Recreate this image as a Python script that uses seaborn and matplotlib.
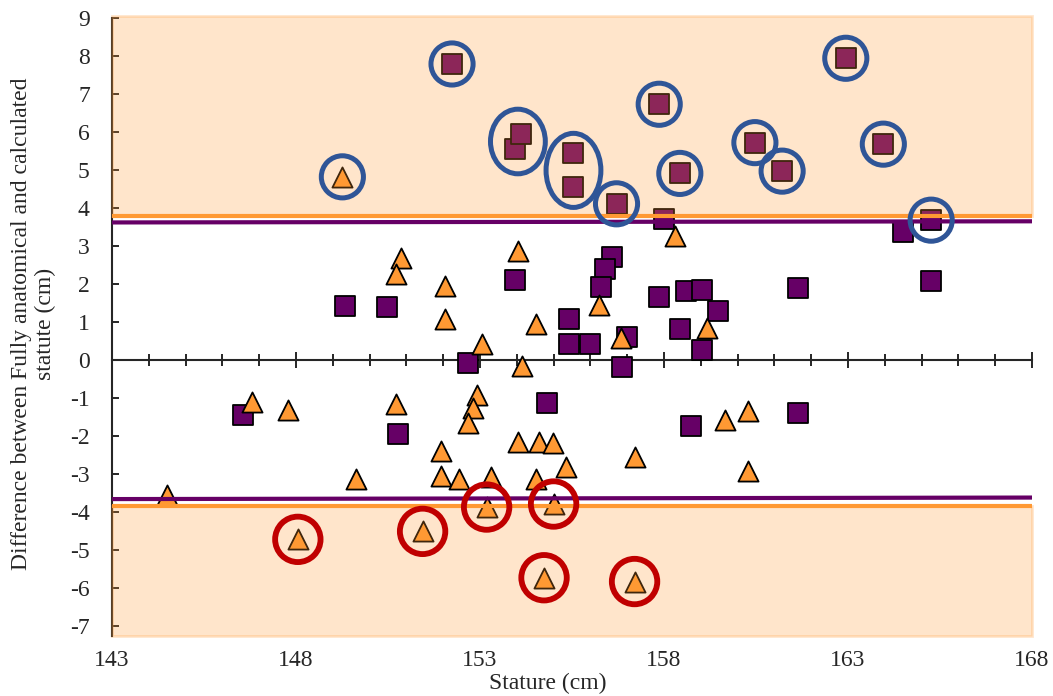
"""
plot.py - Bland-Altman style plot: fully anatomical vs calculated stature
"""
import numpy as np
import pandas as pd
import matplotlib
matplotlib.use('Agg')
import matplotlib.pyplot as plt
from matplotlib.patches import Ellipse, Rectangle
import seaborn as sns

# Purple squares (series 1)
square_x = [152.24, 153.95, 154.11, 155.54, 155.54, 156.71, 157.87, 158.43, 158.00, 162.94,
            160.47, 161.21, 163.96, 165.26, 164.50, 165.26, 161.63, 159.46, 149.33, 150.48,
            153.96, 152.67, 155.41, 155.41, 155.98, 157.00, 156.85, 156.58, 156.41, 156.29,
            157.87, 158.59, 159.02, 158.43, 159.02, 146.57, 150.76, 154.83, 158.73, 161.63]
square_y = [7.79, 5.55, 5.95, 5.44, 4.54, 4.11, 6.73, 4.91, 3.71, 7.94,
            5.72, 4.97, 5.68, 3.68, 3.38, 2.08, 1.90, 1.30, 1.42, 1.39,
            2.10, -0.09, 1.07, 0.42, 0.42, 0.61, -0.18, 2.72, 2.39, 1.93,
            1.67, 1.82, 1.84, 0.81, 0.26, -1.46, -1.96, -1.12, -1.74, -1.39]

# Orange triangles (series 2)
triangle_x = [149.26, 158.30, 150.85, 150.72, 152.05, 152.05, 154.02, 154.51, 153.05, 154.15,
              156.83, 156.23, 159.16, 144.49, 146.81, 147.79, 150.72, 149.63, 151.94, 151.94,
              152.93, 152.82, 152.68, 152.43, 153.29, 154.02, 154.61, 154.99, 155.35, 154.51,
              157.21, 159.66, 160.27, 160.27, 148.05, 151.44, 153.18, 155.00, 154.74, 157.20]
triangle_y = [4.82, 3.26, 2.68, 2.27, 1.95, 1.07, 2.86, 0.95, 0.43, -0.16,
              0.58, 1.44, 0.84, -3.55, -1.10, -1.32, -1.15, -3.12, -2.40, -3.06,
              -0.93, -1.26, -1.67, -3.14, -3.08, -2.17, -2.15, -2.19, -2.81, -3.14,
              -2.54, -1.57, -1.35, -2.93, -4.72, -4.51, -3.87, -3.79, -5.73, -5.83]

# limits of agreement (value at left and right end of the axis)
loa_x = [143, 168]
upper_loa = [3.62, 3.65]
lower_loa = [-3.66, -3.62]
upper_cut = [3.78, 3.78]
lower_cut = [-3.83, -3.83]
band_top = 9.05
band_bottom = -7.25

# highlighted points
circled_squares = [0, 5, 6, 7, 9, 10, 11, 12, 13]
grouped_squares = [[1, 2], [3, 4]]
circled_triangles_top = [0]
circled_triangles_bottom = [34, 35, 36, 37, 38, 39]

x_major = list(range(143, 169, 5))
x_minor = list(range(143, 169))
y_ticks = list(range(-7, 10))

PURPLE = '#660066'
ORANGE = '#FF9933'
BLUE = '#2F5597'
RED = '#C00000'

sns.set_style('white')
plt.rcParams['font.family'] = ['Liberation Serif', 'DejaVu Serif']
plt.rcParams['axes.unicode_minus'] = False

squares = pd.DataFrame({'Stature': square_x, 'Diff': square_y})
triangles = pd.DataFrame({'Stature': triangle_x, 'Diff': triangle_y})

fig = plt.figure(figsize=(10.53, 6.96), dpi=100)
ax = fig.add_axes([112 / 1053, 1 - 635.5 / 696, 920 / 1053, 617.5 / 696])

sns.scatterplot(data=squares, x='Stature', y='Diff', marker='s', s=210,
                color=PURPLE, edgecolor='black', linewidth=1.3, zorder=2, ax=ax)
sns.scatterplot(data=triangles, x='Stature', y='Diff', marker='^', s=210,
                color=ORANGE, edgecolor='black', linewidth=1.3, zorder=2, ax=ax)

# shaded regions beyond the limits (drawn over the markers)
ax.add_patch(Rectangle((loa_x[0], upper_cut[0]), loa_x[1] - loa_x[0], band_top - upper_cut[0],
                       facecolor=ORANGE, edgecolor=ORANGE, lw=2, alpha=0.25, zorder=3, clip_on=False))
ax.add_patch(Rectangle((loa_x[0], band_bottom), loa_x[1] - loa_x[0], lower_cut[0] - band_bottom,
                       facecolor=ORANGE, edgecolor=ORANGE, lw=2, alpha=0.25, zorder=3, clip_on=False))

sns.lineplot(x=loa_x, y=upper_loa, color=PURPLE, lw=3, zorder=4, ax=ax)
sns.lineplot(x=loa_x, y=lower_loa, color=PURPLE, lw=3, zorder=4, ax=ax)
sns.lineplot(x=loa_x, y=upper_cut, color=ORANGE, lw=3, zorder=4, ax=ax)
sns.lineplot(x=loa_x, y=lower_cut, color=ORANGE, lw=3, zorder=4, ax=ax)

# circles around outliers
ax.scatter(squares.Stature.iloc[circled_squares], squares.Diff.iloc[circled_squares], s=920,
           marker='o', facecolors='none', edgecolors=BLUE, linewidths=3.6, zorder=5)
ax.scatter(triangles.Stature.iloc[circled_triangles_top], triangles.Diff.iloc[circled_triangles_top],
           s=920, marker='o', facecolors='none', edgecolors=BLUE, linewidths=3.6, zorder=5)
ax.scatter(triangles.Stature.iloc[circled_triangles_bottom], triangles.Diff.iloc[circled_triangles_bottom],
           s=1070, marker='o', facecolors='none', edgecolors=RED, linewidths=4.2, zorder=5)
for grp, (w, h) in zip(grouped_squares, [(1.49, 1.70), (1.49, 1.95)]):
    gx = squares.Stature.iloc[grp].mean()
    gy = squares.Diff.iloc[grp].mean()
    ax.add_patch(Ellipse((gx, gy), w, h, facecolor='none', edgecolor=BLUE, lw=3.6, zorder=5))

ax.set_xlim(143, 168)
ax.set_ylim(band_bottom, 9)

# x axis line through zero, labels at the bottom
for side in ['bottom', 'right']:
    ax.spines[side].set_visible(False)
ax.spines['top'].set_position(('data', 0))
ax.spines['top'].set_linewidth(1.5)
ax.spines['left'].set_linewidth(1.5)
ax.spines['top'].set_zorder(1)

ax.set_xticks(x_major)
ax.set_xticks(x_minor, minor=True)
ax.set_yticks(y_ticks)
ax.tick_params(axis='x', which='both', bottom=False, top=True, labelbottom=True, labeltop=False,
               direction='inout', width=1.4, labelsize=17, pad=5)
ax.tick_params(axis='x', which='major', length=11.5)
ax.tick_params(axis='x', which='minor', length=8.5)
ax.tick_params(axis='y', left=True, direction='in', length=5, width=1.4, labelsize=17, pad=16)

ax.set_xlabel('Stature (cm)', fontsize=17)
ax.xaxis.set_label_coords(0.474, -0.077)
ax.xaxis.label.set_va('center')
ax.set_ylabel('Difference between Fully anatomical and calculated\nstatute (cm)', fontsize=17,
              multialignment='center')
ax.yaxis.set_label_coords(-0.085, 0.505)
ax.yaxis.label.set_va('center')

fig.savefig('out.png', dpi=100)
plt.close(fig)
